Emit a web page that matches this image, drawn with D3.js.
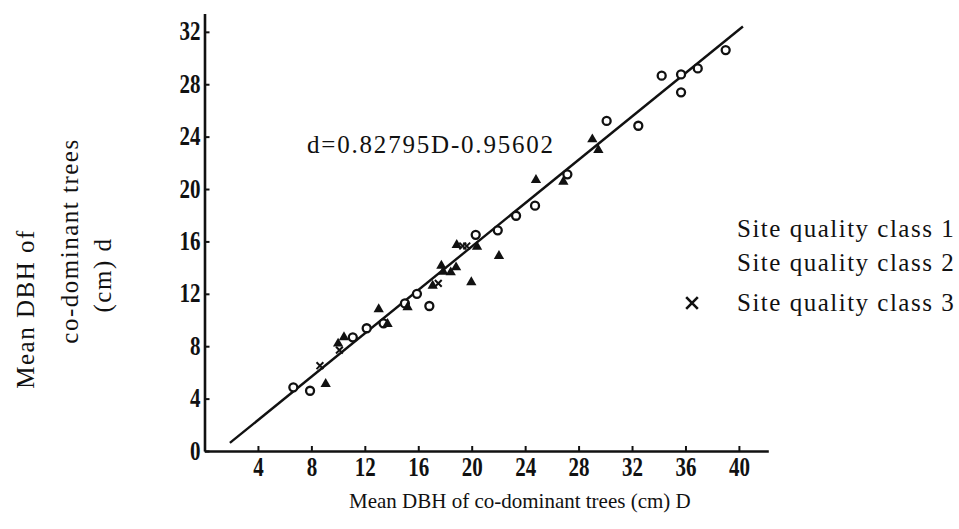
<!DOCTYPE html>
<html>
<head>
<meta charset="utf-8">
<script src="https://cdn.jsdelivr.net/npm/d3@7"></script>
<style>
  html, body { margin: 0; padding: 0; background: #fff; }
  svg { display: block; }
  .serif { font-family: "Liberation Serif", "Times New Roman", serif; fill: #111; }
</style>
</head>
<body>
<svg id="chart" width="959" height="529"></svg>
<script>
// ---- data ----
const xTicks = [4, 8, 12, 16, 20, 24, 28, 32, 36, 40];
const yTicks = [0, 4, 8, 12, 16, 20, 24, 28, 32];

// Site quality class 1 (open circles)
const class1D = [6.65, 7.9, 11.1, 12.14, 13.4, 15.0, 15.9, 16.83, 20.3, 21.95, 23.32, 24.74, 27.16, 30.1, 32.47, 34.22, 35.67, 35.67, 36.92, 39.01];
const class1d = [4.86, 4.6, 8.68, 9.37, 9.75, 11.27, 12.0, 11.07, 16.5, 16.85, 17.96, 18.73, 21.12, 25.2, 24.83, 28.65, 28.75, 27.38, 29.21, 30.61];

// Site quality class 2 (filled triangles)
const class2D = [9.07, 10.0, 10.44, 13.04, 13.7, 15.2, 17.08, 17.73, 17.87, 18.43, 18.83, 18.88, 19.97, 20.4, 22.04, 24.81, 26.86, 29.03, 29.48];
const class2d = [5.11, 8.2, 8.68, 10.82, 9.7, 10.97, 12.62, 14.15, 13.69, 13.64, 14.02, 15.73, 12.88, 15.6, 14.89, 20.69, 20.56, 23.79, 22.98];

// Site quality class 3 (crosses)
const class3D = [8.64, 10.1, 17.5, 19.33, 19.63];
const class3d = [6.51, 7.7, 12.8, 15.65, 15.65];

// regression line d = a*D + b, drawn over the D range shown
const regCoef = [0.82795, -0.95602];
const regRangeD = [1.9, 40.3];

const equationLabel = "d=0.82795D-0.95602";
const legendLabels = ["Site quality class 1", "Site quality class 2", "Site quality class 3"];
const xTitle = "Mean DBH of co-dominant trees (cm) D";
const yTitleLines = ["Mean DBH of", "co-dominant trees", "(cm) d"];

// ---- drawing ----
const svg = d3.select("#chart");
const x = d3.scaleLinear().domain([0, 42.2]).range([204.5, 768.3]);
const y = d3.scaleLinear().domain([0, 33.4]).range([451, 13.5]);

const tickFont = '"Liberation Serif", "Times New Roman", serif';

// x axis
const gx = svg.append("g").attr("transform", `translate(0,${y(0)})`)
  .call(d3.axisBottom(x).tickValues(xTicks).tickSizeInner(-5).tickSizeOuter(0).tickFormat(d3.format("d")));
gx.select(".domain").attr("stroke", "#111").attr("stroke-width", 2.6);
gx.selectAll(".tick line").attr("stroke", "#111").attr("stroke-width", 2);
gx.selectAll(".tick text")
  .attr("y", 0).attr("dy", 0)
  .attr("transform", "translate(0,25) scale(1,1.25)")
  .attr("font-family", tickFont).attr("font-weight", "bold").attr("font-size", 21)
  .attr("fill", "#111");

// y axis
const gy = svg.append("g").attr("transform", `translate(${x(0)},0)`)
  .call(d3.axisLeft(y).tickValues(yTicks).tickSizeInner(-5).tickSizeOuter(0).tickFormat(d3.format("d")));
gy.select(".domain").attr("stroke", "#111").attr("stroke-width", 2.6);
gy.selectAll(".tick line").attr("stroke", "#111").attr("stroke-width", 2);
gy.selectAll(".tick text")
  .attr("x", 0).attr("dy", 0)
  .attr("text-anchor", "end")
  .attr("transform", "translate(-4,8) scale(1,1.25)")
  .attr("font-family", tickFont).attr("font-weight", "bold").attr("font-size", 21)
  .attr("fill", "#111");

// regression line
const line = d3.line().x(D => x(D)).y(D => y(regCoef[0] * D + regCoef[1]));
svg.append("path").datum(regRangeD).attr("d", line)
  .attr("fill", "none").attr("stroke", "#111").attr("stroke-width", 2.4);

// class 1: circles
svg.append("g").selectAll("circle").data(class1D.map((D, i) => [D, class1d[i]]))
  .join("circle")
  .attr("cx", p => x(p[0])).attr("cy", p => y(p[1])).attr("r", 4)
  .attr("fill", "#fff").attr("stroke", "#111").attr("stroke-width", 2.3);

// class 2: triangles
const tri = d3.symbol().type(d3.symbolTriangle).size(46);
svg.append("g").selectAll("path").data(class2D.map((D, i) => [D, class2d[i]]))
  .join("path")
  .attr("d", tri)
  .attr("transform", p => `translate(${x(p[0])},${y(p[1])})`)
  .attr("fill", "#111");

// class 3: crosses
const cross = d3.symbol().type(d3.symbolX).size(32);
svg.append("g").selectAll("path").data(class3D.map((D, i) => [D, class3d[i]]))
  .join("path")
  .attr("d", cross)
  .attr("transform", p => `translate(${x(p[0])},${y(p[1])})`)
  .attr("fill", "none").attr("stroke", "#111").attr("stroke-width", 2);

// equation
svg.append("text").attr("class", "serif")
  .attr("x", 307).attr("y", 153)
  .attr("font-size", 25).attr("letter-spacing", 1.8)
  .text(equationLabel);

// legend
const legendY = [237, 271, 311];
svg.append("g").selectAll("text").data(legendLabels).join("text")
  .attr("class", "serif")
  .attr("x", 737).attr("y", (d, i) => legendY[i])
  .attr("font-size", 25).attr("letter-spacing", 1.5)
  .text(d => d);
svg.append("path")
  .attr("d", d3.symbol().type(d3.symbolX).size(90)())
  .attr("transform", `translate(692,${legendY[2] - 8})`)
  .attr("fill", "none").attr("stroke", "#111").attr("stroke-width", 2.6);

// x title
svg.append("text").attr("class", "serif")
  .attr("x", 349).attr("y", 508)
  .attr("font-size", 21)
  .text(xTitle);

// y title (three rotated lines, each centred on its own point)
const yTitlePos = [[34, 309], [78, 241], [111, 275]];
svg.append("g").selectAll("text").data(yTitleLines).join("text")
  .attr("class", "serif")
  .attr("text-anchor", "middle")
  .attr("transform", (d, i) => `translate(${yTitlePos[i][0]},${yTitlePos[i][1]}) rotate(-90)`)
  .attr("font-size", 25).attr("letter-spacing", 1.5)
  .text(d => d);
</script>
</body>
</html>
